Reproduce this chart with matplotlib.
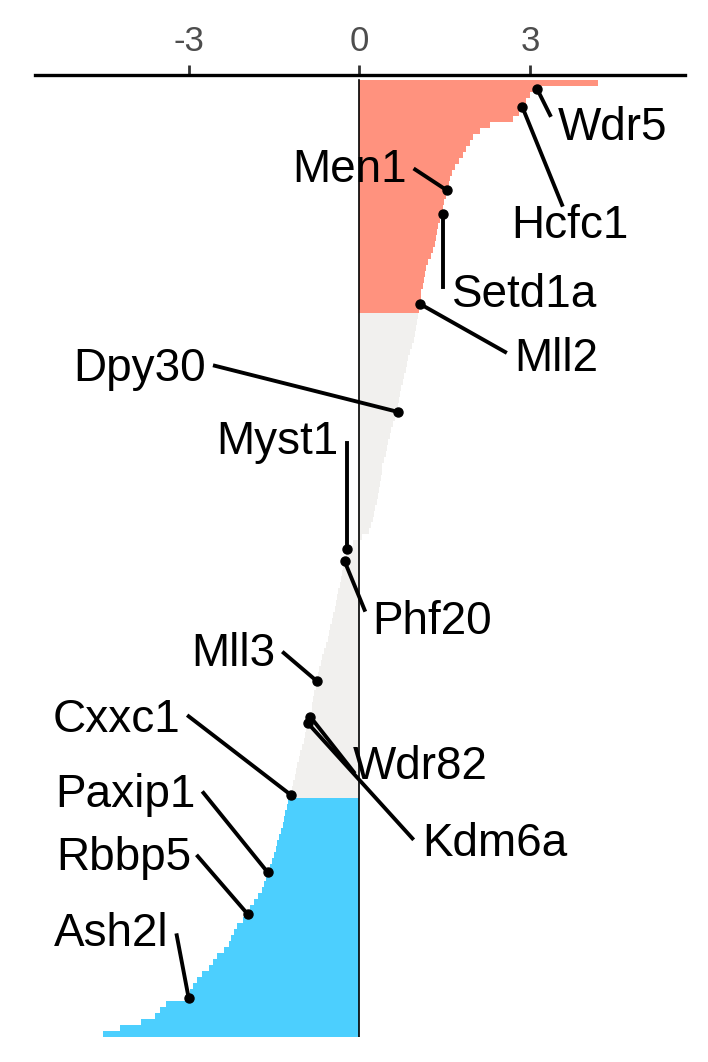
import numpy as np
import matplotlib
matplotlib.use('Agg')
import matplotlib.pyplot as plt

plt.rcParams['font.family'] = ['Liberation Sans', 'DejaVu Sans']

# ranked scores, top to bottom
scores = [
    4.19, 3.12, 3.00, 2.92, 2.86, 2.80, 2.70, 2.30, 2.12, 2.00,
    1.95, 1.88, 1.82, 1.75, 1.68, 1.63, 1.60, 1.57, 1.54, 1.52,
    1.49, 1.47, 1.46, 1.41, 1.38, 1.36, 1.34, 1.32, 1.30, 1.26,
    1.21, 1.17, 1.15, 1.13, 1.11, 1.09, 1.08, 1.07, 1.05, 1.03,
    1.01, 0.99, 0.97, 0.95, 0.92, 0.89, 0.86, 0.83, 0.81, 0.78,
    0.76, 0.73, 0.71, 0.69, 0.685, 0.67, 0.62, 0.59, 0.56, 0.53,
    0.51, 0.48, 0.46, 0.43, 0.40, 0.39, 0.38, 0.37, 0.35, 0.32,
    0.30, 0.28, 0.26, 0.24, 0.20, 0.16, 0.05, -0.12, -0.21, -0.24,
    -0.26, -0.28, -0.30, -0.32, -0.34, -0.37, -0.39, -0.41, -0.43, -0.46,
    -0.48, -0.51, -0.53, -0.56, -0.59, -0.62, -0.65, -0.68, -0.71, -0.73,
    -0.75, -0.77, -0.79, -0.81, -0.83, -0.84, -0.86, -0.91, -0.93, -0.95,
    -0.98, -1.01, -1.04, -1.06, -1.09, -1.11, -1.14, -1.17, -1.19, -1.21,
    -1.25, -1.27, -1.30, -1.32, -1.35, -1.38, -1.41, -1.44, -1.47, -1.50,
    -1.54, -1.58, -1.61, -1.64, -1.67, -1.71, -1.79, -1.85, -1.92, -1.96,
    -2.05, -2.15, -2.20, -2.25, -2.30, -2.38, -2.50, -2.58, -2.65, -2.76,
    -2.85, -2.92, -2.97, -3.00, -3.40, -3.50, -3.60, -3.84, -4.20, -4.50,
]
up_cut = 1.04
down_cut = -1.245

# highlighted genes and their rank
genes = ['Wdr5', 'Hcfc1', 'Men1', 'Setd1a', 'Mll2', 'Dpy30', 'Myst1', 'Phf20',
         'Mll3', 'Wdr82', 'Kdm6a', 'Cxxc1', 'Paxip1', 'Rbbp5', 'Ash2l']
gene_rank = [1, 4, 18, 22, 37, 55, 78, 80, 100, 106, 107, 119, 132, 139, 153]

# label placement: text x, text row, alignment, leader end x, leader end row
label_pos = {
    'Wdr5':   (3.49, 7.6, 'left', 3.35, 5.4),
    'Hcfc1':  (3.70, 23.9, 'center', 3.56, 20.4),
    'Men1':   (0.84, 14.5, 'right', 0.98, 14.5),
    'Setd1a': (1.63, 35.4, 'left', 1.46, 34.1),
    'Mll2':   (2.72, 46.1, 'left', 2.56, 45.0),
    'Dpy30':  (-2.70, 47.8, 'right', -2.54, 47.3),
    'Myst1':  (-0.37, 60.0, 'right', -0.21, 60.2),
    'Phf20':  (0.23, 90.1, 'left', 0.09, 88.1),
    'Mll3':   (-1.47, 95.5, 'right', -1.33, 95.3),
    'Wdr82':  (-0.12, 114.4, 'left', -0.10, 115.2),
    'Kdm6a':  (1.10, 127.3, 'left', 0.93, 126.3),
    'Cxxc1':  (-3.14, 106.5, 'right', -3.00, 105.9),
    'Paxip1': (-2.88, 119.0, 'right', -2.74, 118.7),
    'Rbbp5':  (-2.96, 129.6, 'right', -2.84, 129.3),
    'Ash2l':  (-3.35, 142.3, 'right', -3.21, 142.5),
}

vals = np.array(scores)
n = len(vals)
rows = np.arange(n)
colors = np.where(vals >= up_cut, '#FF927E',
                  np.where(vals <= down_cut, '#4CCFFE', '#F1F0EE'))

fig = plt.figure(figsize=(7.08, 10.62), dpi=100)
ax = fig.add_axes([35 / 708, 1 - 1037 / 1062, 650 / 708, 962 / 1062])

ax.barh(rows, vals, height=1.0, color=colors, linewidth=0)
ax.plot([0, 0], [-0.5, n - 0.5], color='black', lw=1.2, zorder=3)

for g, r in zip(genes, gene_rank):
    tx, ty, ha, lx, ly = label_pos[g]
    ax.plot([vals[r], lx], [r, ly], color='black', lw=2.8, zorder=4)
    ax.plot(vals[r], r, 'o', color='black', ms=6.5, zorder=5)
    ax.text(tx, ty, g, ha=ha, va='center', fontsize=33, color='black', zorder=6)

ax.set_xlim(-5.7, 5.72)
ax.set_ylim(n - 0.5, -1.3)
ax.xaxis.tick_top()
ax.set_xticks([-3, 0, 3])
ax.set_xticklabels(['-3', '0', '3'])
ax.tick_params(axis='x', length=7, width=2, color='#333333', labelsize=25,
               labelcolor='#4D4D4D', pad=5)
ax.set_yticks([])
for side in ['bottom', 'left', 'right']:
    ax.spines[side].set_visible(False)
ax.spines['top'].set_linewidth(2.4)

fig.savefig('out.png', dpi=100)
